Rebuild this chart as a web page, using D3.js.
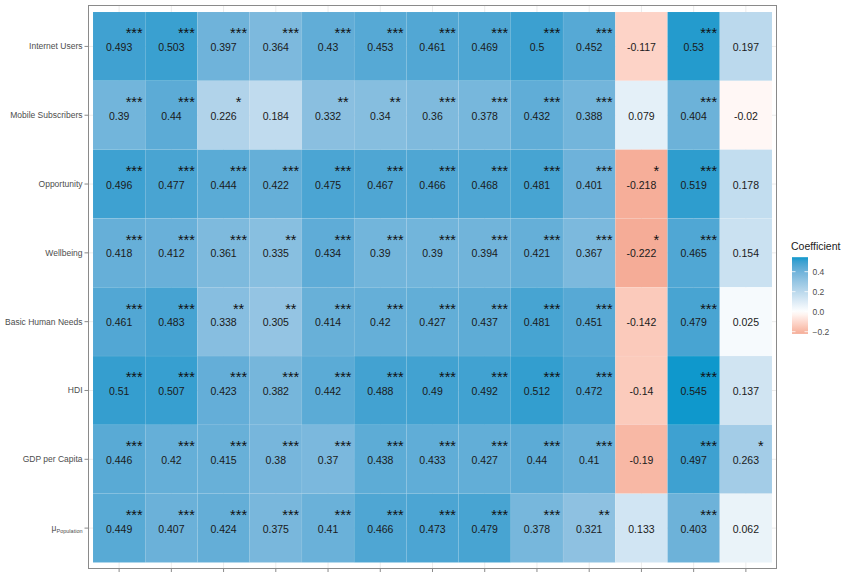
<!DOCTYPE html>
<html>
<head>
<meta charset="utf-8">
<script src="https://cdn.jsdelivr.net/npm/d3@7"></script>
<style>
  html, body { margin: 0; padding: 0; background: #fff; }
  svg { display: block; font-family: "Liberation Sans", Arial, sans-serif; }
</style>
</head>
<body>
<svg id="chart" width="842" height="572"></svg>
<script>
const rows = ["Internet Users", "Mobile Subscribers", "Opportunity", "Wellbeing", "Basic Human Needs", "HDI", "GDP per Capita", "μPopulation"];
const columns = ["c1","c2","c3","c4","c5","c6","c7","c8","c9","c10","c11","c12","c13"];

const internetUsers     = [0.493, 0.503, 0.397, 0.364, 0.43, 0.453, 0.461, 0.469, 0.5, 0.452, -0.117, 0.53, 0.197];
const mobileSubscribers = [0.39, 0.44, 0.226, 0.184, 0.332, 0.34, 0.36, 0.378, 0.432, 0.388, 0.079, 0.404, -0.02];
const opportunity       = [0.496, 0.477, 0.444, 0.422, 0.475, 0.467, 0.466, 0.468, 0.481, 0.401, -0.218, 0.519, 0.178];
const wellbeing         = [0.418, 0.412, 0.361, 0.335, 0.434, 0.39, 0.39, 0.394, 0.421, 0.367, -0.222, 0.465, 0.154];
const basicHumanNeeds   = [0.461, 0.483, 0.338, 0.305, 0.414, 0.42, 0.427, 0.437, 0.481, 0.451, -0.142, 0.479, 0.025];
const hdi               = [0.51, 0.507, 0.423, 0.382, 0.442, 0.488, 0.49, 0.492, 0.512, 0.472, -0.14, 0.545, 0.137];
const gdpPerCapita      = [0.446, 0.42, 0.415, 0.38, 0.37, 0.438, 0.433, 0.427, 0.44, 0.41, -0.19, 0.497, 0.263];
const muPopulation      = [0.449, 0.407, 0.424, 0.375, 0.41, 0.466, 0.473, 0.479, 0.378, 0.321, 0.133, 0.403, 0.062];

const starsInternet  = ["***","***","***","***","***","***","***","***","***","***","","***",""];
const starsMobile    = ["***","***","*","","**","**","***","***","***","***","","***",""];
const starsOpport    = ["***","***","***","***","***","***","***","***","***","***","*","***",""];
const starsWellbeing = ["***","***","***","**","***","***","***","***","***","***","*","***",""];
const starsBasic     = ["***","***","**","**","***","***","***","***","***","***","","***",""];
const starsHdi       = ["***","***","***","***","***","***","***","***","***","***","","***",""];
const starsGdp       = ["***","***","***","***","***","***","***","***","***","***","","***","*"];
const starsMu        = ["***","***","***","***","***","***","***","***","***","**","","***",""];

const legendBreaks = [0.4, 0.2, 0.0, -0.2];
const legendTitle = "Coefficient";

const valueRows = [internetUsers, mobileSubscribers, opportunity, wellbeing, basicHumanNeeds, hdi, gdpPerCapita, muPopulation];
const starRows  = [starsInternet, starsMobile, starsOpport, starsWellbeing, starsBasic, starsHdi, starsGdp, starsMu];

const cells = [];
rows.forEach((r, i) => columns.forEach((c, j) => cells.push({ row: r, col: c, value: valueRows[i][j], stars: starRows[i][j] })));

const svg = d3.select("#chart");

const panel = { x0: 88, x1: 777, y0: 5, y1: 569 };
const x = d3.scaleBand().domain(columns).range([93, 772]).padding(0);
const y = d3.scaleBand().domain(rows).range([12, 562.5]).padding(0);

const maxAbs = d3.max(cells, d => Math.abs(d.value));
const lowColor = d3.lab(44, 63, 55).formatHex();
const highColor = "#0f98cc";
const color = d3.scaleLinear()
  .domain([-maxAbs, 0, maxAbs])
  .range([lowColor, "#ffffff", highColor])
  .interpolate(d3.interpolateLab);

svg.append("rect").attr("x", panel.x0).attr("y", panel.y0)
  .attr("width", panel.x1 - panel.x0).attr("height", panel.y1 - panel.y0).attr("fill", "#fff");
const grid = svg.append("g");
columns.forEach(c => {
  const cx = x(c) + x.bandwidth() / 2;
  grid.append("line").attr("x1", cx).attr("x2", cx).attr("y1", panel.y0).attr("y2", panel.y1)
    .attr("stroke", "#ebebeb").attr("stroke-width", 1);
});
rows.forEach(r => {
  const cy = y(r) + y.bandwidth() / 2;
  grid.append("line").attr("x1", panel.x0).attr("x2", panel.x1).attr("y1", cy).attr("y2", cy)
    .attr("stroke", "#ebebeb").attr("stroke-width", 1);
});

svg.append("g").selectAll("rect").data(cells).join("rect")
  .attr("x", d => x(d.col)).attr("y", d => y(d.row))
  .attr("width", x.bandwidth()).attr("height", y.bandwidth())
  .attr("fill", d => color(d.value))
  .attr("stroke", "rgba(255,255,255,0.1)").attr("stroke-width", 0.5);

svg.append("g").selectAll("text").data(cells).join("text")
  .attr("x", d => x(d.col) + x.bandwidth() / 2)
  .attr("y", d => y(d.row) + y.bandwidth() / 2 + 4.5)
  .attr("text-anchor", "middle")
  .attr("font-size", 10.5)
  .attr("fill", "#1a1a1a")
  .text(d => d.value);

svg.append("g").selectAll("text").data(cells.filter(d => d.stars)).join("text")
  .attr("x", d => x(d.col) + x.bandwidth() / 2 + 15)
  .attr("y", d => y(d.row) + y.bandwidth() / 2 - 8)
  .attr("text-anchor", "middle")
  .attr("font-size", 14.5)
  .attr("fill", "#111")
  .text(d => d.stars);

svg.append("rect").attr("x", panel.x0 + 0.5).attr("y", panel.y0 + 0.5)
  .attr("width", panel.x1 - panel.x0 - 1).attr("height", panel.y1 - panel.y0 - 1)
  .attr("fill", "none").attr("stroke", "#8a8a8a").attr("stroke-width", 1);

const yAxis = svg.append("g");
rows.forEach(r => {
  const cy = y(r) + y.bandwidth() / 2;
  yAxis.append("line").attr("x1", panel.x0 - 3.5).attr("x2", panel.x0).attr("y1", cy).attr("y2", cy)
    .attr("stroke", "#8a8a8a").attr("stroke-width", 1);
  const t = yAxis.append("text").attr("x", panel.x0 - 5.5).attr("y", cy + 3)
    .attr("text-anchor", "end").attr("font-size", 8.5).attr("fill", "#4d4d4d");
  if (r.startsWith("μ")) {
    t.append("tspan").text("μ");
    t.append("tspan").attr("font-size", 5.5).attr("dy", 2).text(r.slice(1));
  } else {
    t.text(r);
  }
});

columns.forEach(c => {
  const cx = x(c) + x.bandwidth() / 2;
  svg.append("line").attr("x1", cx).attr("x2", cx).attr("y1", panel.y1).attr("y2", panel.y1 + 3.5)
    .attr("stroke", "#8a8a8a").attr("stroke-width", 1);
});

const lg = { x: 792, w: 16 };
const ext = d3.extent(cells, d => d.value);
const ly = d3.scaleLinear().domain([0, 0.4]).range([311.7, 271.7]);
const defs = svg.append("defs");
const grad = defs.append("linearGradient").attr("id", "lgrad")
  .attr("x1", 0).attr("x2", 0).attr("y1", 1).attr("y2", 0);
d3.range(0, 1.0001, 0.05).forEach(t => {
  const v = ext[0] + t * (ext[1] - ext[0]);
  grad.append("stop").attr("offset", t).attr("stop-color", color(v));
});
svg.append("text").attr("x", 791).attr("y", 250).attr("font-size", 10.5).attr("fill", "#1a1a1a").text(legendTitle);
svg.append("rect").attr("x", lg.x).attr("y", ly(ext[1])).attr("width", lg.w)
  .attr("height", ly(ext[0]) - ly(ext[1])).attr("fill", "url(#lgrad)");
legendBreaks.forEach(b => {
  const yy = ly(b);
  svg.append("line").attr("x1", lg.x).attr("x2", lg.x + 3.5).attr("y1", yy).attr("y2", yy).attr("stroke", "#fff").attr("stroke-width", 0.8);
  svg.append("line").attr("x1", lg.x + lg.w - 3.5).attr("x2", lg.x + lg.w).attr("y1", yy).attr("y2", yy).attr("stroke", "#fff").attr("stroke-width", 0.8);
  svg.append("text").attr("x", lg.x + lg.w + 4.5).attr("y", yy + 3).attr("font-size", 8.5).attr("fill", "#4d4d4d")
    .text(d3.format(".1f")(b));
});
</script>
</body>
</html>
